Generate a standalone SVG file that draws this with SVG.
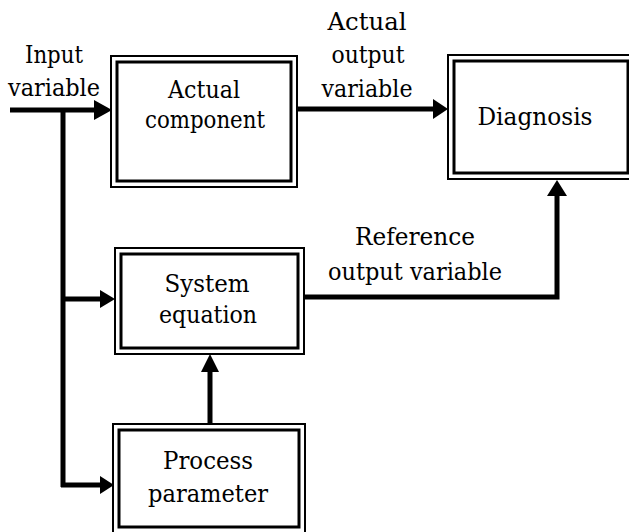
<svg xmlns="http://www.w3.org/2000/svg" width="629" height="532" viewBox="0 0 629 532">
<style>
.outer{fill:#fff;stroke:#000;stroke-width:2}
.inner{fill:none;stroke:#000;stroke-width:3}
.t{font-family:"DejaVu Serif","Liberation Serif",serif;font-size:24px;fill:#000;text-anchor:middle}
.c{fill:none;stroke:#000;stroke-width:5;stroke-linejoin:miter}
.h{fill:#000}
</style>
<rect width="629" height="532" fill="#fff"/>
<g id="labels">
<text class="t" x="54" y="63" textLength="58" lengthAdjust="spacingAndGlyphs">Input</text>
<text class="t" x="54" y="96" textLength="92" lengthAdjust="spacingAndGlyphs">variable</text>
<text class="t" x="367" y="30" textLength="79" lengthAdjust="spacingAndGlyphs">Actual</text>
<text class="t" x="368" y="63" textLength="73" lengthAdjust="spacingAndGlyphs">output</text>
<text class="t" x="367" y="97" textLength="91" lengthAdjust="spacingAndGlyphs">variable</text>
<text class="t" x="415" y="245" textLength="120" lengthAdjust="spacingAndGlyphs">Reference</text>
<text class="t" x="415" y="280" textLength="174" lengthAdjust="spacingAndGlyphs">output variable</text>
</g>
<g id="connectors">
<line class="c" x1="10" y1="110" x2="96" y2="110"/>
<polygon class="h" points="94,100 112,110 94,120"/>
<line class="c" x1="63" y1="110" x2="63" y2="487"/>
<line class="c" x1="61" y1="299" x2="102" y2="299"/>
<polygon class="h" points="100,290 115,299 100,308"/>
<line class="c" x1="61" y1="485" x2="102" y2="485"/>
<polygon class="h" points="100,476 114,485 100,494"/>
<line class="c" x1="297" y1="109" x2="435" y2="109"/>
<polygon class="h" points="433,99 448,109 433,119"/>
<line class="c" x1="210" y1="424" x2="210" y2="370"/>
<polygon class="h" points="201,372 210,354 219,372"/>
<polyline class="c" points="304,297 557,297 557,194"/>
<polygon class="h" points="547,196 557,180 567,196"/>
</g>
<g id="actual-component">
<rect class="outer" x="111" y="56" width="186" height="131"/>
<rect class="inner" x="117" y="62" width="174" height="119"/>
<text class="t" x="204" y="98" textLength="72" lengthAdjust="spacingAndGlyphs">Actual</text>
<text class="t" x="205" y="128" textLength="120" lengthAdjust="spacingAndGlyphs">component</text>
</g>
<g id="diagnosis">
<rect class="outer" x="448" y="55" width="190" height="124"/>
<rect class="inner" x="454" y="61" width="174" height="112"/>
<text class="t" x="535" y="125" textLength="115" lengthAdjust="spacingAndGlyphs">Diagnosis</text>
</g>
<g id="system-equation">
<rect class="outer" x="115" y="248" width="189" height="106"/>
<rect class="inner" x="121" y="254" width="177" height="94"/>
<text class="t" x="207" y="292" textLength="85" lengthAdjust="spacingAndGlyphs">System</text>
<text class="t" x="208" y="323" textLength="98" lengthAdjust="spacingAndGlyphs">equation</text>
</g>
<g id="process-parameter">
<rect class="outer" x="113" y="424" width="192" height="111"/>
<rect class="inner" x="119" y="430" width="180" height="97"/>
<text class="t" x="208" y="469" textLength="90" lengthAdjust="spacingAndGlyphs">Process</text>
<text class="t" x="208" y="502" textLength="120" lengthAdjust="spacingAndGlyphs">parameter</text>
</g>
</svg>
